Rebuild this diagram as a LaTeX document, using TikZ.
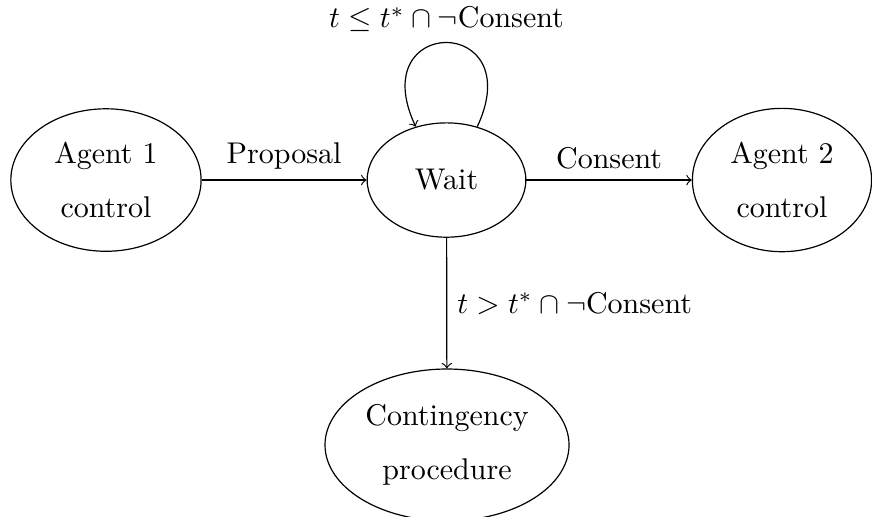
\documentclass[tikz,border=0pt]{standalone}
\usepackage{amsmath,amssymb}
\usepackage{tikz}
\usetikzlibrary{arrows,shapes.geometric}
\tikzset{
	state/.style={
			draw, ellipse, align=center, inner sep=1pt
		}
}

\begin{document}
\begin{tikzpicture}[>=to]
		\useasboundingbox (0,0) rectangle (10.22,-6.048);

		\node[state, minimum width=2.23cm, minimum height=1.67cm] (agent1) at (1.242, -2.11) {Agent 1\\[6pt]control};
		\node[state, minimum width=1.86cm, minimum height=1.34cm] (wait) at (5.233, -2.11) {Wait};
		\node[state, minimum width=2.1cm, minimum height=1.68cm] (agent2) at (9.165, -2.11) {Agent 2\\[6pt]control};
		\node[state, minimum width=2.86cm, minimum height=1.78cm] (contingency) at (5.239, -5.215) {Contingency\\[6pt]procedure};

		\draw[->]	(agent1) to node[above]{Proposal} (wait);
		\draw[->]	(wait) to node[above]{Consent} (agent2);
		\draw[->]	(wait) to node[right]{$t > t^{*} \cap \neg\text{Consent}$} (contingency);

		\draw[->]	(wait.60) to[out=65, in=115, distance=1.45cm] node[above]{$t \leq t^{*} \cap \neg\text{Consent}$} (wait.120);
	\end{tikzpicture}
\end{document}
